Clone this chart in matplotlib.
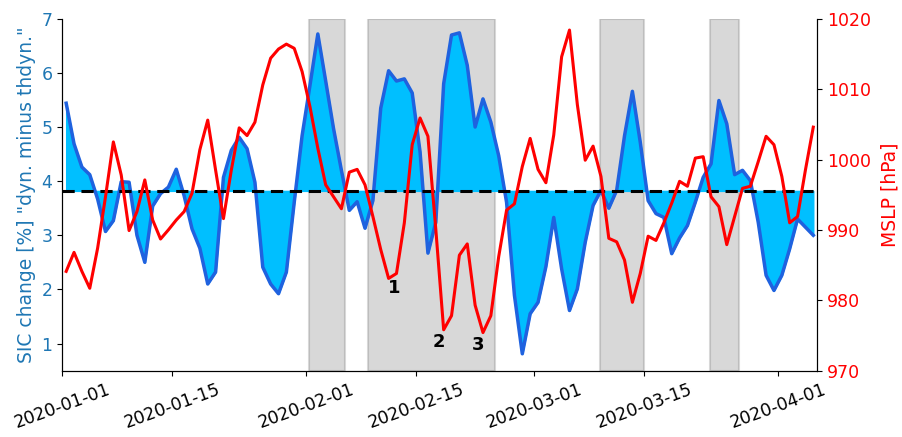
import matplotlib
matplotlib.use('Agg')
import matplotlib.pyplot as plt
import matplotlib.dates as mdates
import numpy as np
import pandas as pd

# daily values, 2020-01-01 12:00 .. 2020-04-05 12:00
dates = pd.date_range('2020-01-01 12:00', periods=96, freq='D')

sic_diff = [5.44, 4.69, 4.26, 4.12, 3.67, 3.07, 3.27, 3.99, 3.98, 3.00,
            2.50, 3.54, 3.77, 3.89, 4.22, 3.73, 3.12, 2.76, 2.10, 2.32,
            4.07, 4.57, 4.81, 4.60, 3.98, 2.41, 2.10, 1.92, 2.32, 3.61,
            4.84, 5.77, 6.72, 5.85, 4.97, 4.20, 3.46, 3.62, 3.13, 3.64,
            5.35, 6.04, 5.85, 5.89, 5.63, 4.54, 2.67, 3.24, 5.80, 6.70,
            6.74, 6.14, 5.00, 5.52, 5.09, 4.47, 3.61, 1.89, 0.81, 1.55,
            1.76, 2.42, 3.33, 2.38, 1.61, 2.01, 2.87, 3.55, 3.83, 3.50,
            3.83, 4.84, 5.66, 4.72, 3.64, 3.40, 3.33, 2.66, 2.95, 3.18,
            3.61, 4.07, 4.32, 5.49, 5.06, 4.12, 4.20, 4.01, 3.24, 2.26,
            1.98, 2.26, 2.75, 3.30, 3.15, 3.00]

mslp = [984.1, 986.8, 984.1, 981.7, 987.4, 994.7, 1002.5, 997.8, 989.9, 992.6,
        997.1, 991.4, 988.7, 990.0, 991.4, 992.6, 995.2, 1001.4, 1005.6, 998.5,
        991.6, 998.5, 1004.5, 1003.4, 1005.3, 1010.6, 1014.4, 1015.7, 1016.4, 1015.8,
        1012.5, 1007.5, 1001.6, 996.4, 994.7, 993.0, 998.2, 998.6, 996.4, 991.9,
        987.2, 983.1, 983.8, 991.0, 1002.1, 1005.9, 1003.3, 990.1, 975.8, 977.8,
        986.4, 988.0, 979.3, 975.4, 977.8, 986.2, 992.8, 993.7, 999.0, 1003.0,
        998.6, 996.7, 1003.5, 1014.6, 1018.4, 1007.8, 999.9, 1001.9, 997.6, 988.8,
        988.3, 985.7, 979.7, 983.8, 989.1, 988.5, 991.0, 993.8, 996.9, 996.2,
        1000.2, 1000.4, 994.7, 993.3, 987.9, 991.9, 995.9, 996.2, 999.7, 1003.3,
        1002.1, 997.6, 991.0, 991.9, 998.5, 1004.6]

sic_ref = 3.82

# shaded periods
span_start = ['2020-02-01 10:00', '2020-02-08 22:00', '2020-03-09 10:00', '2020-03-23 10:00']
span_end = ['2020-02-06', '2020-02-25', '2020-03-15', '2020-03-27']

# numbered cyclone labels
event_labels = ['1', '2', '3']
event_dates = ['2020-02-12 06:00', '2020-02-17 22:00', '2020-02-22 20:00']
event_mslp = [981.7, 974.1, 973.7]

tick_dates = ['2020-01-01', '2020-01-15', '2020-02-01', '2020-02-15',
              '2020-03-01', '2020-03-15', '2020-04-01']

sic_col = '#1f77b4'
plt.rcParams['font.size'] = 12.5

fig = plt.figure(figsize=(9.02, 4.37), dpi=100)
ax1 = fig.add_axes([0.069, 0.152, 0.837, 0.805])

for s, e in zip(span_start, span_end):
    ax1.axvspan(pd.Timestamp(s), pd.Timestamp(e), color='gray', alpha=0.3, lw=1.5, zorder=0)

sic = np.array(sic_diff)
ax1.fill_between(dates, sic, sic_ref, color='#00bfff', zorder=2)
ax1.plot(dates, sic, color='#1f62df', lw=2.5, zorder=3)
ax1.axhline(sic_ref, color='black', ls=(0, (4, 2.2)), lw=2.2, zorder=4)
ax1.set_ylim(0.5, 7)
ax1.set_ylabel('SIC change [%] "dyn. minus thdyn."', color=sic_col, fontsize=13.5)
ax1.tick_params(axis='y', labelcolor=sic_col)
ax1.set_xlim(pd.Timestamp('2020-01-01'), pd.Timestamp('2020-04-06'))
ax1.set_xticks(pd.to_datetime(tick_dates))
ax1.xaxis.set_major_formatter(mdates.DateFormatter('%Y-%m-%d'))
plt.setp(ax1.get_xticklabels(), rotation=20, ha='center')
ax1.spines['top'].set_visible(False)

ax2 = ax1.twinx()
ax2.plot(dates, mslp, color='red', lw=2.2)
ax2.set_ylim(970, 1020)
ax2.set_ylabel('MSLP [hPa]', color='red', fontsize=13.5, labelpad=7)
ax2.tick_params(axis='y', labelcolor='red')
ax2.spines['top'].set_visible(False)

for lab, d, p in zip(event_labels, event_dates, event_mslp):
    ax2.text(pd.Timestamp(d), p, lab, ha='center', va='center',
             fontsize=13, fontweight='bold')

fig.savefig('out.png', dpi=100)
